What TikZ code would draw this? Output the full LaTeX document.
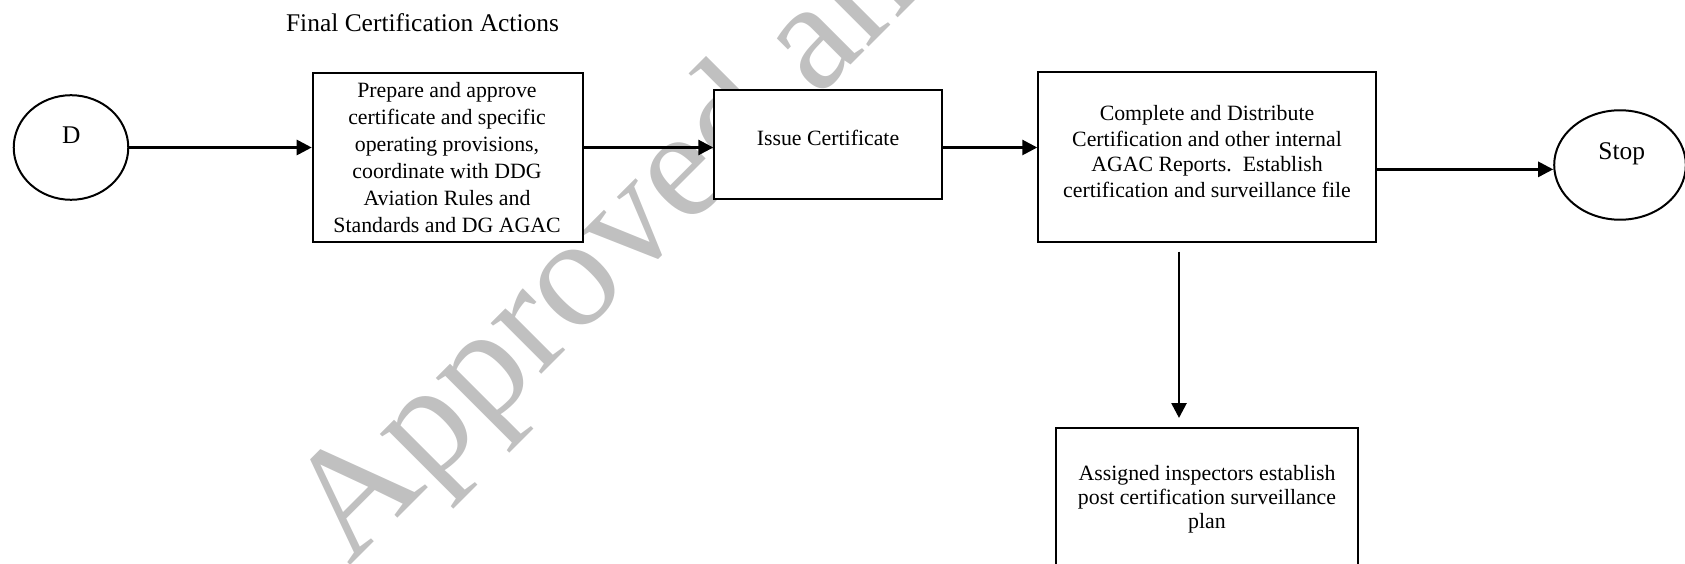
\documentclass[tikz,border=0pt]{standalone}
\usepackage{fontspec}
\setmainfont{Liberation Serif}
\usetikzlibrary{arrows.meta,shapes.geometric}
\definecolor{wm}{RGB}{192,192,192}
\begin{document}
\begin{tikzpicture}[x=0.55pt,y=-0.55pt,
  box/.style={draw=black, line width=1.1pt, fill=white, rectangle, inner sep=0pt},
  oval/.style={draw=black, line width=1.1pt, fill=white, ellipse, inner sep=0pt},
  txt/.style={inner sep=0pt, align=center},
  big/.style={inner sep=0pt, font=\fontsize{14}{17}\selectfont},
  arr/.style={line width=1.5pt, -{Triangle[length=8.25pt,width=8.25pt]}},
]
\useasboundingbox (0,0) rectangle (1685,564);
\clip (0,0) rectangle (1685,564);
% watermark
\node[rotate=45, anchor=base west, inner sep=0pt, text=wm,
      font=\fontsize{85.8}{90}\selectfont] (wmark) at (349,567) {Approved and Issued};
% title
\node[big, anchor=base] (title) at (422.5,31.7) {Final Certification Actions};
% shapes
\node[oval, minimum width=63pt, minimum height=57.5pt] (d) at (71,147.5) {};
\node[big, anchor=base] (dt) at (71.3,144) {D};
\node[box, minimum width=148.8pt, minimum height=93.3pt] (b1) at (448,157.5) {};
\node[txt, font=\fontsize{12}{14.85}\selectfont] (t1) at (447,158)
  {Prepare and approve\\certificate and specific\\operating provisions,\\coordinate with DDG\\Aviation Rules and\\Standards and DG AGAC};
\node[box, minimum width=125.4pt, minimum height=59.8pt] (b2) at (828.3,144.7) {};
\node[txt, anchor=base, font=\fontsize{12}{14.5}\selectfont] (t2) at (828,145.7) {Issue Certificate};
\node[box, minimum width=185.6pt, minimum height=93.7pt] (b3) at (1207,157.2) {};
\node[txt, font=\fontsize{12}{14.1}\selectfont] (t3) at (1207,151.7)
  {Complete and Distribute\\Certification and other internal\\AGAC Reports.~~Establish\\certification and surveillance file};
\node[oval, minimum width=72.4pt, minimum height=60.2pt] (s) at (1620,165) {};
\node[big, anchor=base] (st) at (1621.7,160) {Stop};
\node[box, minimum width=166.3pt, minimum height=94pt] (b4) at (1207.2,513.5) {};
\node[txt, anchor=north, font=\fontsize{12}{13.3}\selectfont] (t4) at (1207,465.1)
  {Assigned inspectors establish\\post certification surveillance\\plan};
% connectors
\draw[arr] (d.east) -- (d.east -| b1.west);
\draw[arr] (b1.east |- d.east) -- (b2.west |- d.east);
\draw[arr] (b2.east |- d.east) -- (b3.west |- d.east);
\coordinate (a4) at ([yshift=-2.4pt]s.west);
\draw[arr] (b3.east |- a4) -- (a4);
\coordinate (v1) at (1179,251.7);
\coordinate (v2) at (1179,418);
\draw[arr] (v1) -- (v2);
\end{tikzpicture}
\end{document}
